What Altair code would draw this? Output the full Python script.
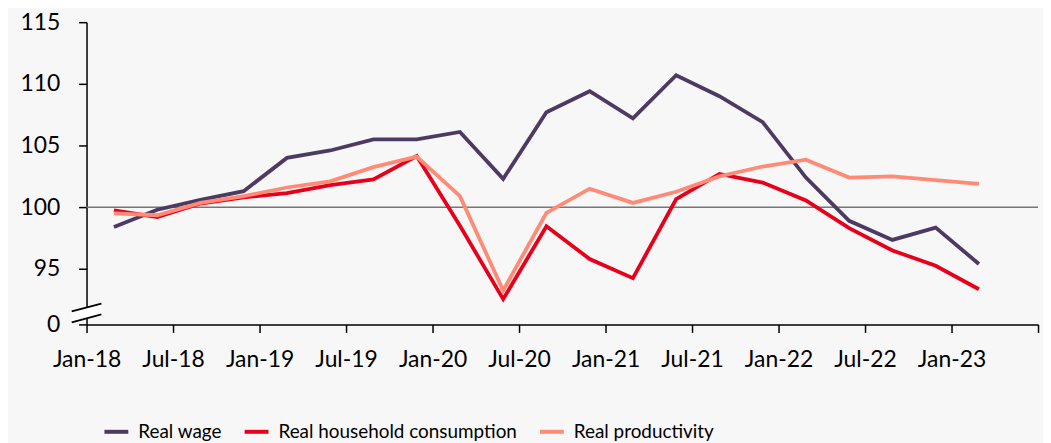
import altair as alt
import pandas as pd

quarters = ["2018Q1","2018Q2","2018Q3","2018Q4","2019Q1","2019Q2","2019Q3","2019Q4",
            "2020Q1","2020Q2","2020Q3","2020Q4","2021Q1","2021Q2","2021Q3","2021Q4",
            "2022Q1","2022Q2","2022Q3","2022Q4","2023Q1"]
real_wage = [98.4, 99.8, 100.6, 101.3, 104.0, 104.6, 105.5, 105.5, 106.1, 102.3, 107.7,
             109.4, 107.2, 110.7, 109.0, 106.9, 102.4, 98.9, 97.35, 98.35, 95.4]
real_consumption = [99.75, 99.2, 100.3, 100.8, 101.15, 101.8, 102.25, 104.15, 98.5, 92.55, 98.45,
                    95.8, 94.25, 100.65, 102.7, 102.0, 100.55, 98.3, 96.5, 95.25, 93.35]
real_productivity = [99.5, 99.35, 100.35, 100.9, 101.6, 102.1, 103.25, 104.1, 100.9, 93.25, 99.55,
                     101.5, 100.35, 101.25, 102.5, 103.3, 103.85, 102.4, 102.5, 102.2, 101.9]
series_names = ["Real wage", "Real household consumption", "Real productivity"]
series_colors = ["#4d3a62", "#e6001c", "#ff8a75"]
x_tick_labels = ["Jan-18","Jul-18","Jan-19","Jul-19","Jan-20","Jul-20","Jan-21","Jul-21",
                 "Jan-22","Jul-22","Jan-23",""]
y_tick_values = [90.5, 95, 100, 105, 110, 115]

# axis-break decoration (in data units)
break_x = [-1.03, 1.03]
break_low = [90.66, 91.31]
break_high = [91.55, 92.19]

def qmonth(q):
    # observation plotted around the end of the quarter's middle month
    y = int(q[:4]) - 2018
    k = int(q[-1]) - 1
    return y * 12 + k * 3 + 1.9

rows = []
for name, vals in zip(series_names, [real_wage, real_consumption, real_productivity]):
    for q, v in zip(quarters, vals):
        rows.append({"m": qmonth(q), "v": v, "series": name})
df = pd.DataFrame(rows)

xmax = 6 * (len(x_tick_labels) - 1)
label_arr = "[" + ",".join("'%s'" % s for s in x_tick_labels) + "]"

x_scale = alt.Scale(domain=[0, xmax], nice=False, zero=False)
y_scale = alt.Scale(domain=[90.5, 115], nice=False, zero=False)

FONT = "Source Sans Pro, Lato"

x_axis = alt.Axis(values=list(range(0, xmax + 1, 6)), labelExpr=label_arr + "[round(datum.value/6)]",
                  title=None, grid=False, domainColor="black", domainWidth=1.5, tickColor="black",
                  tickWidth=1.5, tickSize=8, labelFont=FONT, labelFontSize=23, labelColor="black",
                  labelPadding=16, labelFlush=False)
y_axis = alt.Axis(values=y_tick_values, labelExpr="datum.value < 91 ? '0' : format(datum.value, 'd')",
                  title=None, grid=False, domainColor="black", domainWidth=1.5, tickColor="black",
                  tickWidth=1.5, tickSize=8, labelFont=FONT, labelFontSize=23, labelColor="black",
                  labelPadding=19)

ref = alt.Chart(pd.DataFrame({"x0": [0], "x1": [xmax], "y": [100]})).mark_rule(
    color="#777777", strokeWidth=1.5).encode(
    x=alt.X("x0:Q", scale=x_scale, axis=x_axis), x2="x1:Q",
    y=alt.Y("y:Q", scale=y_scale, axis=y_axis))

lines = alt.Chart(df).mark_line(strokeWidth=3.8).encode(
    x=alt.X("m:Q", scale=x_scale),
    y=alt.Y("v:Q", scale=y_scale),
    color=alt.Color("series:N", sort=series_names,
                    scale=alt.Scale(domain=series_names, range=series_colors),
                    legend=alt.Legend(orient="none", direction="horizontal", legendX=16, legendY=398,
                                      title=None, symbolType="stroke", symbolSize=576,
                                      symbolStrokeWidth=4, labelFont=FONT,
                                      labelFontSize=19, labelColor="black", columnPadding=14,
                                      labelOffset=8, padding=0, labelLimit=400)),
    order="m:Q")

bdf = pd.DataFrame({"x": break_x, "lo": break_low, "hi": break_high})
brk_area = alt.Chart(bdf).mark_area(color="white", opacity=1).encode(
    x=alt.X("x:Q", scale=x_scale), y=alt.Y("lo:Q", scale=y_scale), y2="hi:Q")
brk_lo = alt.Chart(bdf).mark_line(color="black", strokeWidth=1.8).encode(
    x=alt.X("x:Q", scale=x_scale), y=alt.Y("lo:Q", scale=y_scale))
brk_hi = alt.Chart(bdf).mark_line(color="black", strokeWidth=1.8).encode(
    x=alt.X("x:Q", scale=x_scale), y=alt.Y("hi:Q", scale=y_scale))

chart = alt.layer(ref, lines, brk_area, brk_lo, brk_hi).properties(
    width=957, height=304,
    autosize=alt.AutoSizeParams(type="none"),
    padding={"left": 79, "top": 13, "right": 5, "bottom": 118},
    background="#f7f7f7",
).configure_view(stroke=None)

chart.save("out.html", embed_options={"renderer": "svg", "actions": False})
